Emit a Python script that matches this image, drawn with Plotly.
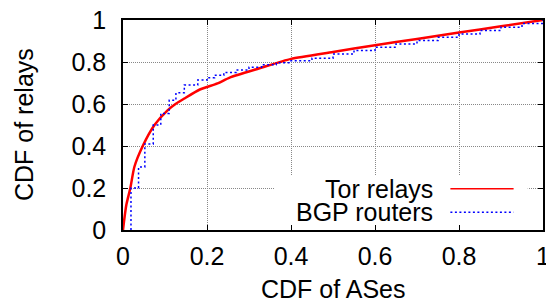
import plotly.graph_objects as go

# Tor relays CDF (smooth)
tor_x = [0, 0.003, 0.008, 0.0175, 0.027, 0.047, 0.075, 0.106, 0.125, 0.146, 0.183,
         0.225, 0.254, 0.325, 0.40, 0.50, 0.60, 0.70, 0.80, 0.90, 1.0]
tor_y = [0, 0.05, 0.12, 0.20, 0.30, 0.40, 0.50, 0.57, 0.60, 0.626, 0.669,
         0.698, 0.726, 0.77, 0.815, 0.848, 0.88, 0.91, 0.94, 0.97, 1.0]

# BGP routers CDF (stepped)
bgp_x = [0.019, 0.037, 0.052, 0.072, 0.090, 0.110, 0.126, 0.146, 0.178, 0.20,
         0.218, 0.24, 0.27, 0.30, 0.33, 0.365, 0.40, 0.45, 0.50, 0.55, 0.60,
         0.65, 0.70, 0.75, 0.80, 0.85, 0.90, 0.95, 1.0, 1.0]
bgp_y = [0, 0.20, 0.30, 0.41, 0.50, 0.555, 0.618, 0.653, 0.69, 0.714,
         0.725, 0.737, 0.75, 0.762, 0.775, 0.787, 0.797, 0.806, 0.818, 0.838, 0.855,
         0.87, 0.886, 0.902, 0.918, 0.933, 0.95, 0.966, 0.983, 1.0]

tick_vals = [0, 0.2, 0.4, 0.6, 0.8, 1]
tick_text = ["0", "0.2", "0.4", "0.6", "0.8", "1"]
series_names = ["Tor relays", "BGP routers"]
x_title = "CDF of ASes"
y_title = "CDF of relays"

FONT = "Liberation Sans, Arial, sans-serif"
FS = 25
BLUE_DASH = "2px,2.5px"

fig = go.Figure()
fig.add_trace(go.Scatter(x=tor_x, y=tor_y, mode="lines", name=series_names[0],
                         line=dict(color="#ff0000", width=2.5, shape="spline", smoothing=0.6),
                         showlegend=False))
fig.add_trace(go.Scatter(x=bgp_x, y=bgp_y, mode="lines", name=series_names[1],
                         line=dict(color="#0000ff", width=1.5, dash=BLUE_DASH, shape="vh"),
                         showlegend=False))

# legend box (white, covers grid)
fig.add_shape(type="rect", x0=0.361, x1=0.9636, y0=0.004, y1=0.26,
              xref="x", yref="y", fillcolor="white", line=dict(width=0), layer="between")
# legend samples
fig.add_shape(type="line", x0=0.7795, x1=0.930, y0=0.197, y1=0.197, xref="x", yref="y",
              line=dict(color="#ff0000", width=1.5))
fig.add_shape(type="line", x0=0.7795, x1=0.930, y0=0.085, y1=0.085, xref="x", yref="y",
              line=dict(color="#0000ff", width=1.5, dash=BLUE_DASH))
fig.add_annotation(x=0.742, y=0.197, xref="x", yref="y", text=series_names[0],
                   showarrow=False, xanchor="right", yanchor="middle",
                   font=dict(family=FONT, size=FS, color="black"))
fig.add_annotation(x=0.742, y=0.085, xref="x", yref="y", text=series_names[1],
                   showarrow=False, xanchor="right", yanchor="middle",
                   font=dict(family=FONT, size=FS, color="black"))

# axis titles
fig.add_annotation(x=0.5, y=-0.281, xref="paper", yref="paper", text=x_title,
                   showarrow=False, xanchor="center", yanchor="middle",
                   font=dict(family=FONT, size=FS, color="black"))
fig.add_annotation(x=-0.2357, y=0.5, xref="paper", yref="paper", text=y_title,
                   showarrow=False, xanchor="center", yanchor="middle", textangle=-90,
                   font=dict(family=FONT, size=FS, color="black"))

axis_common = dict(
    range=[0, 1], tickvals=tick_vals, ticktext=tick_text,
    showline=True, linecolor="black", linewidth=1.5, mirror="ticks",
    ticks="inside", ticklen=5, tickwidth=1, tickcolor="black",
    showgrid=True, gridcolor="#888888", griddash="1px,1px", gridwidth=1,
    zeroline=False, tickfont=dict(family=FONT, size=FS, color="black"),
    automargin=False, ticklabeloverflow="allow",
)

# page body has an 8px default margin, so the figure is sized/offset to compensate
fig.update_layout(
    width=546, height=294,
    margin=dict(l=115, r=11, t=12, b=72),
    paper_bgcolor="white", plot_bgcolor="white",
    font=dict(family=FONT, size=FS, color="black"),
    xaxis=dict(**axis_common, ticklabelstandoff=3),
    yaxis=dict(**axis_common, ticklabelstandoff=10),
    showlegend=False,
)

fig.write_html("out.html")
